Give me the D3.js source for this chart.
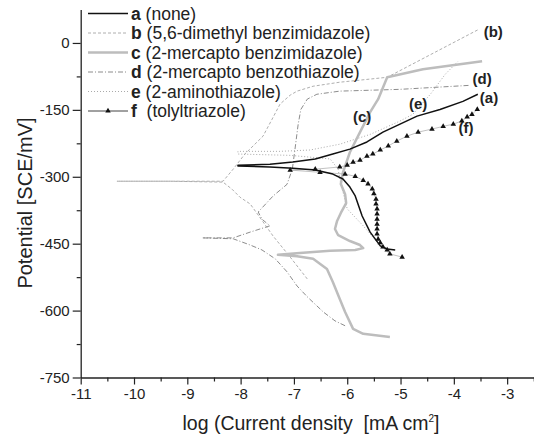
<!DOCTYPE html>
<html>
<head>
<meta charset="utf-8">
<script src="https://cdn.jsdelivr.net/npm/d3@7"></script>
<style>
body{margin:0;background:#fff;}
text{font-family:"Liberation Sans",Arial,sans-serif;}
</style>
</head>
<body>
<div id="chart"></div>
<script>
// axis ticks
var xMajor = [-11,-10,-9,-8,-7,-6,-5,-4,-3];
var xMinor = [-10.5,-9.5,-8.5,-7.5,-6.5,-5.5,-4.5,-3.5,-2.5];
var yMajor = [-750,-600,-450,-300,-150,0];
var yMinor = [-675,-525,-375,-225,-75];

// legend
var keys = ['a','b','c','d','e','f'];
var names = ['(none)','(5,6-dimethyl benzimidazole)','(2-mercapto benzimidazole)',
    '(2-mercapto benzothiazole)','(2-aminothiazole)',' (tolyltriazole)'];

// curves, [log i, E] (lower branch first, then upper)
var curveA = [[-5.10,-464],[-5.25,-462],[-5.38,-455],[-5.57,-424],[-5.72,-388],[-5.85,-343],
    [-5.95,-323],[-6.08,-305],[-6.27,-294],[-6.60,-285],[-7.02,-281],[-7.45,-278],[-8.05,-276],
    [-8.05,-274],[-7.45,-272],[-7.02,-267],[-6.60,-260],[-6.27,-249],[-5.95,-238],[-5.63,-222],
    [-5.33,-200],[-5.01,-182],[-4.69,-164],[-4.26,-149],[-3.83,-131],[-3.55,-115]];
var curveB = [[-6.75,-529],[-7.07,-480],[-7.39,-433],[-7.58,-401],[-7.82,-361],[-8.01,-346],
    [-8.16,-328],[-8.33,-312],[-9.32,-310],[-10.32,-310],[-9.32,-310],[-8.33,-310],[-8.14,-283],
    [-7.92,-249],[-7.58,-209],[-7.41,-171],[-7.26,-137],[-7.07,-117],[-6.94,-108],[-6.64,-97],
    [-6.14,-88],[-5.25,-77],[-3.54,30]];
var curveC = [[-5.20,-659],[-5.70,-652],[-5.89,-641],[-6.04,-603],[-6.14,-574],[-6.27,-536],
    [-6.38,-507],[-6.64,-484],[-6.94,-478],[-7.30,-475],[-6.89,-471],[-6.32,-466],[-5.85,-464],
    [-5.70,-460],[-5.76,-453],[-5.95,-444],[-6.17,-431],[-6.23,-417],[-6.19,-399],[-6.12,-381],
    [-6.02,-359],[-6.04,-339],[-6.12,-316],[-6.08,-290],[-5.95,-245],[-5.76,-200],[-5.57,-155],
    [-5.42,-126],[-5.25,-77],[-4.58,-59],[-3.47,-41]];
var curveD = [[-6.04,-634],[-6.23,-623],[-6.45,-603],[-6.75,-569],[-6.94,-545],[-7.13,-513],
    [-7.35,-484],[-7.60,-464],[-7.82,-453],[-8.14,-439],[-8.72,-437],[-8.14,-437],[-7.82,-424],
    [-7.45,-410],[-7.60,-395],[-7.67,-379],[-7.39,-343],[-7.13,-317],[-7.03,-283],[-6.98,-238],
    [-6.92,-182],[-6.87,-149],[-6.75,-126],[-6.57,-115],[-6.14,-108],[-5.01,-104],[-3.70,-95]];
var curveE = [[-5.20,-473],[-5.38,-455],[-5.70,-410],[-6.00,-372],[-6.14,-305],[-6.17,-283],
    [-6.32,-260],[-7.07,-252],[-8.05,-249],[-8.05,-243],[-7.26,-243],[-6.70,-240],[-6.14,-227],
    [-5.57,-205],[-5.01,-175],[-4.77,-160],[-4.44,-115],[-4.16,-70],[-3.92,-41]];
var curveF = [[-4.97,-480],[-5.20,-473],[-5.25,-464],[-5.33,-457],[-5.38,-448],[-5.42,-440],
    [-5.44,-428],[-5.44,-417],[-5.44,-406],[-5.44,-395],[-5.44,-383],[-5.44,-372],[-5.46,-361],
    [-5.46,-350],[-5.50,-338],[-5.53,-327],[-5.61,-316],[-5.70,-308],[-5.85,-299],[-6.04,-294],
    [-6.51,-290],[-7.07,-285],[-6.60,-283],[-6.14,-278],[-6.00,-274],[-5.89,-267],[-5.76,-263],
    [-5.63,-254],[-5.52,-249],[-5.38,-240],[-5.23,-231],[-5.07,-220],[-4.88,-209],[-4.67,-200],
    [-4.41,-193],[-4.20,-187],[-4.01,-182],[-3.85,-175],[-3.75,-166],[-3.66,-160],[-3.56,-149]];

// curve labels, [log i, E, text]
var tags = [[-3.26,26,'(b)'],[-3.47,-81,'(d)'],[-3.34,-122,'(a)'],[-4.67,-137,'(e)'],
    [-3.77,-189,'(f)'],[-5.72,-166,'(c)']];

var width = 534, height = 437;
var svg = d3.select('#chart').append('svg')
    .attr('width',width).attr('height',height);

var x = d3.scaleLinear().domain([-11,-2.5]).range([80.7,533.8]);
var y = d3.scaleLinear().domain([-750,75]).range([377.5,9.5]);

var styles = {
    a:{stroke:'#111',width:1.5,dash:null},
    b:{stroke:'#999',width:0.8,dash:'3,2'},
    c:{stroke:'#bdbdbd',width:2.5,dash:null},
    d:{stroke:'#6f6f6f',width:0.8,dash:'5,2,1,2'},
    e:{stroke:'#aaa',width:1,dash:'1,2'},
    f:{stroke:'#999',width:0.6,dash:null}
};
var curves = {a:curveA,b:curveB,c:curveC,d:curveD,e:curveE,f:curveF};

// axes
function styleAxis(g){
    g.select('.domain').attr('stroke','#222').attr('stroke-width',1.3);
    g.selectAll('.tick line').attr('stroke','#222').attr('stroke-width',1.2);
    g.selectAll('text').attr('font-size','15px').attr('fill','#222')
        .attr('font-family','"Liberation Sans",Arial,sans-serif');
}
var xAxis = svg.append('g').attr('transform','translate(0,'+y(-750)+')')
    .call(d3.axisBottom(x).tickValues(xMajor).tickSize(7).tickSizeOuter(0)
        .tickPadding(4).tickFormat(function(d){return String(d);}));
styleAxis(xAxis);
var xAxisMinor = svg.append('g').attr('transform','translate(0,'+y(-750)+')')
    .call(d3.axisBottom(x).tickValues(xMinor).tickSize(4).tickFormat(''));
xAxisMinor.select('.domain').remove();
styleAxis(xAxisMinor);

var yAxis = svg.append('g').attr('transform','translate('+x(-11)+',0)')
    .call(d3.axisLeft(y).tickValues(yMajor).tickSize(8).tickSizeOuter(0)
        .tickPadding(3).tickFormat(function(d){return String(d);}));
styleAxis(yAxis);
var yAxisMinor = svg.append('g').attr('transform','translate('+x(-11)+',0)')
    .call(d3.axisLeft(y).tickValues(yMinor).tickSize(4).tickFormat(''));
yAxisMinor.select('.domain').remove();
styleAxis(yAxisMinor);

// axis titles
svg.append('text')
    .attr('x',311).attr('y',430)
    .attr('text-anchor','middle')
    .attr('font-size','19.5px').attr('fill','#222')
    .style('white-space','pre')
    .call(function(t){
        t.append('tspan').text('log (Current density  [mA cm');
        t.append('tspan').attr('font-size','10px').attr('dy',-8).text('2');
        t.append('tspan').attr('dy',8).text(']');
    });
svg.append('text')
    .attr('transform','translate(32,203) rotate(-90)')
    .attr('text-anchor','middle')
    .attr('font-size','20px').attr('fill','#222')
    .text('Potential [SCE/mV]');

// curves
var line = d3.line().x(function(d){return x(d[0]);}).y(function(d){return y(d[1]);});
var plot = svg.append('g').attr('class','curves');
['d','b','e','c','f','a'].forEach(function(k){
    var s = styles[k];
    plot.append('path')
        .datum(curves[k])
        .attr('d',line)
        .attr('fill','none')
        .attr('stroke',s.stroke)
        .attr('stroke-width',s.width)
        .attr('stroke-dasharray',s.dash)
        .attr('stroke-linejoin','round');
});
var tri = d3.symbol().type(d3.symbolTriangle).size(13);
plot.append('g').selectAll('path')
    .data(curveF)
    .enter().append('path')
    .attr('d',tri)
    .attr('fill','#111')
    .attr('transform',function(d){return 'translate('+x(d[0])+','+y(d[1])+')';});

// curve labels
svg.append('g').selectAll('text')
    .data(tags)
    .enter().append('text')
    .attr('x',function(d){return x(d[0]);})
    .attr('y',function(d){return y(d[1]);})
    .attr('dy','0.35em')
    .attr('text-anchor','middle')
    .attr('font-size','15px').attr('font-weight','bold').attr('fill','#222')
    .text(function(d){return d[2];});

// legend
var legend = svg.append('g').attr('class','legend');
keys.forEach(function(k,i){
    var s = styles[k];
    var ly = 13.5+i*19.5;
    legend.append('line')
        .attr('x1',88).attr('x2',128).attr('y1',ly).attr('y2',ly)
        .attr('stroke',k=='f'?'#111':s.stroke)
        .attr('stroke-width',k=='f'?0.8:s.width)
        .attr('stroke-dasharray',s.dash);
    if(k=='f'){
        legend.append('path').attr('d',tri).attr('fill','#111')
            .attr('transform','translate(108,'+ly+')');
    }
    var t = legend.append('text')
        .attr('x',131).attr('y',ly).attr('dy','0.35em')
        .attr('font-size','17.5px').attr('fill','#222')
        .style('white-space','pre');
    t.append('tspan').attr('font-weight','bold').text(k);
    t.append('tspan').text(' '+names[i]);
});
</script>
</body>
</html>
